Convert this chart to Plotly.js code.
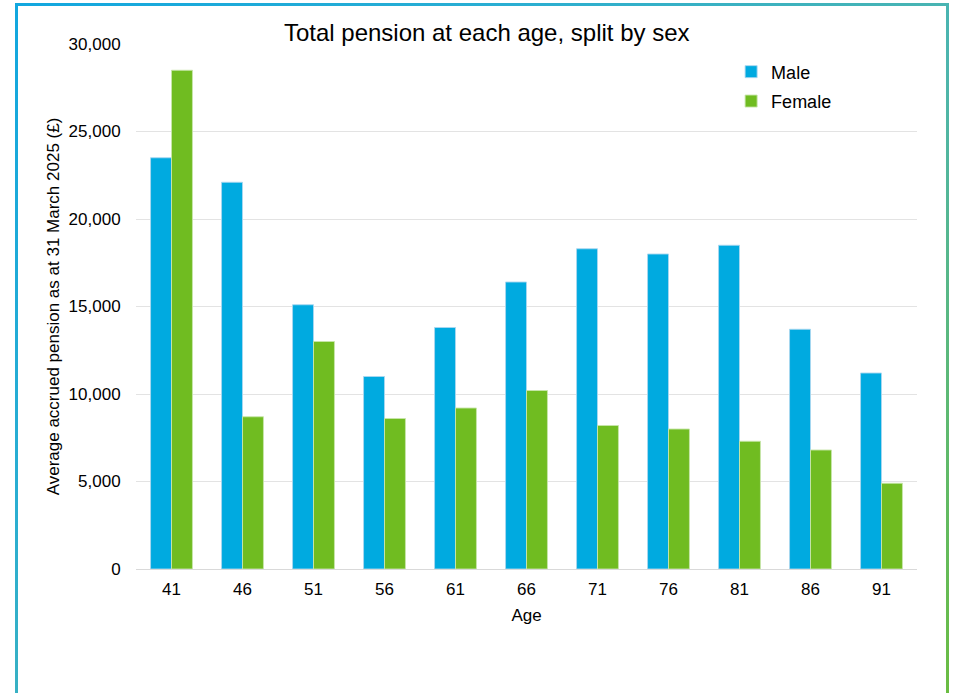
<!DOCTYPE html>
<html>
<head>
<meta charset="utf-8">
<script src="https://cdn.plot.ly/plotly-3.0.1.min.js"></script>
<style>
  html, body { margin: 0; padding: 0; background: #fff; }
  #wrap { position: relative; width: 960px; height: 693px; overflow: hidden; }
  #frame { position: absolute; left: 15px; top: 3px; width: 928px; height: 720px;
    border: 3px solid; border-image: linear-gradient(135deg, #12a7df 0%, #2aaed2 30%, #4db5ad 60%, #6cbd3c 100%) 1; pointer-events: none; z-index: 2; }
  #chart { position: absolute; left: 0; top: 0; width: 960px; height: 693px; }
</style>
</head>
<body>
<div id="wrap">
  <div id="chart"></div>
  <div id="frame"></div>
</div>
<script>
const ages = ['41', '46', '51', '56', '61', '66', '71', '76', '81', '86', '91'];
const male = [23500, 22100, 15100, 11000, 13800, 16400, 18300, 18000, 18500, 13700, 11200];
const female = [28500, 8700, 13000, 8600, 9200, 10200, 8200, 8000, 7300, 6800, 4900];
const yTicks = [0, 5000, 10000, 15000, 20000, 25000, 30000];
const yTickText = ['0', '5,000', '10,000', '15,000', '20,000', '25,000', '30,000'];

const font = 'Liberation Sans, Arial, sans-serif';
const traces = [
  { type: 'bar', name: 'Male', x: ages, y: male, legendgroup: 'm',
    marker: { color: '#00aae0', line: { color: 'rgba(170,215,240,0.9)', width: 1 } } },
  { type: 'bar', name: 'Female', x: ages, y: female, legendgroup: 'f',
    marker: { color: '#70bc21', line: { color: 'rgba(200,230,170,0.9)', width: 1 } } }
];
const layout = {
  width: 960, height: 693,
  margin: { l: 136, r: 43, t: 44, b: 124 },
  paper_bgcolor: '#ffffff', plot_bgcolor: '#ffffff',
  font: { family: font, size: 17, color: '#000' },
  title: { text: 'Total pension at each age, split by sex', font: { family: font, size: 24, color: '#000' },
    x: 0.507, xanchor: 'center', y: 0.953, yanchor: 'middle' },
  barmode: 'group', bargap: 0.41, bargroupgap: 0,
  showlegend: true,
  legend: { x: 0.762, xanchor: 'left', y: 0.982, yanchor: 'top', bgcolor: 'rgba(0,0,0,0)',
    font: { family: font, size: 18 }, itemwidth: 30, traceorder: 'grouped', tracegroupgap: 3 },
  xaxis: { type: 'category', title: { text: 'Age', font: { family: font, size: 17 }, standoff: 10 },
    showgrid: false, showline: true, linecolor: '#d9d9d9', linewidth: 1,
    ticks: 'outside', ticklen: 5, tickcolor: 'rgba(0,0,0,0)', tickfont: { family: font, size: 17 } },
  yaxis: { range: [0, 30000], tickvals: yTicks, ticktext: yTickText,
    title: { text: 'Average accrued pension as at 31 March 2025 (£)', font: { family: font, size: 17 }, standoff: 4 },
    showgrid: true, gridcolor: '#e3e3e3', gridwidth: 1, zeroline: false, showline: false,
    ticks: 'outside', ticklen: 11, tickcolor: 'rgba(0,0,0,0)', tickfont: { family: font, size: 17 } }
};
Plotly.newPlot('chart', traces, layout, { displayModeBar: false, staticPlot: true });
</script>
</body>
</html>
